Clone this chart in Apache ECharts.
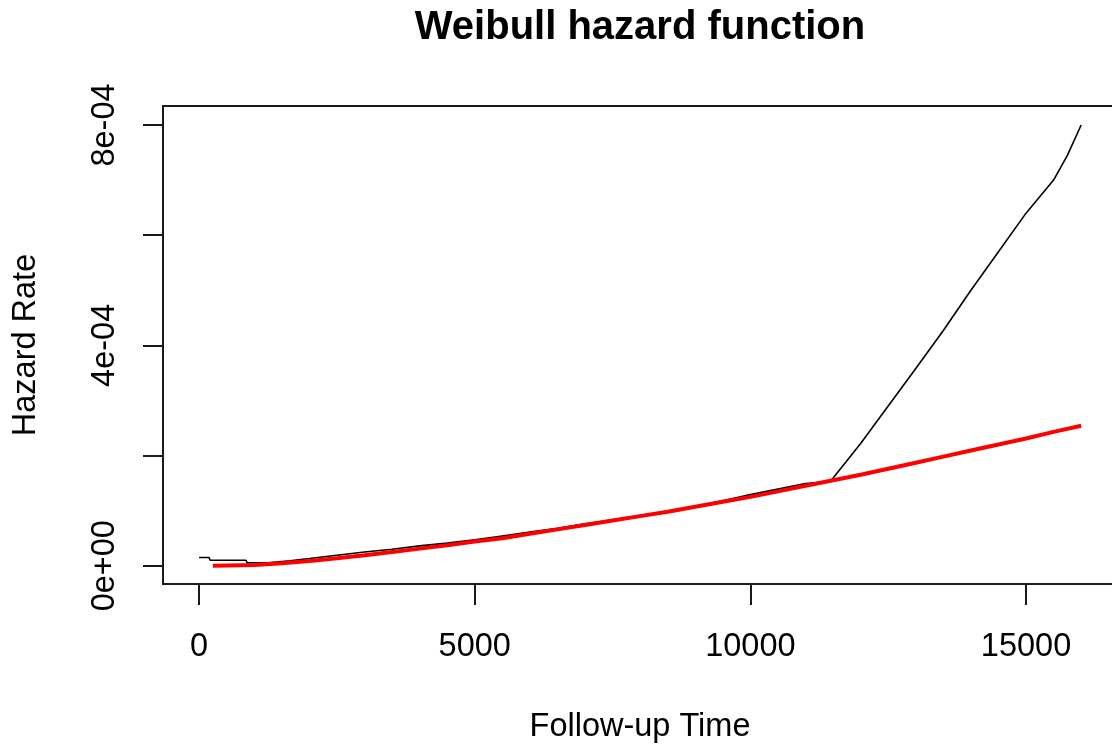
<!DOCTYPE html>
<html>
<head>
<meta charset="utf-8">
<script src="https://cdn.jsdelivr.net/npm/echarts@6/dist/echarts.min.js"></script>
<style>
  html, body { margin: 0; padding: 0; background: #ffffff; }
  #chart { width: 1112px; height: 747px; }
</style>
</head>
<body>
<div id="chart"></div>
<script>
// Observed (smoothed) hazard estimate: follow-up time and rate
const blackTime = [0, 180, 200, 850, 870, 1250, 1650, 2000, 2500, 3000, 3500, 4000, 4500, 5000, 5500, 6000,
  6500, 7000, 7500, 8000, 8500, 9000, 9500, 10000, 10500, 11000, 11450, 12000, 12500, 13000,
  13500, 14000, 14500, 15000, 15500, 15750, 16000];
const blackHazard = [1.5e-5, 1.5e-5, 1.0e-5, 1.0e-5, 5.5e-6, 5.5e-6, 9.0e-6, 1.3e-5, 1.9e-5, 2.5e-5, 3.0e-5,
  3.6e-5, 4.1e-5, 4.7e-5, 5.4e-5, 6.1e-5, 6.8e-5, 7.6e-5, 8.3e-5, 9.1e-5, 9.9e-5, 1.08e-4, 1.18e-4,
  1.29e-4, 1.39e-4, 1.49e-4, 1.53e-4, 2.22e-4, 2.90e-4, 3.58e-4, 4.27e-4, 5.0e-4, 5.7e-4, 6.4e-4,
  7.0e-4, 7.45e-4, 8.0e-4];

// Fitted Weibull hazard
const redTime = [250, 500, 1000, 1500, 2000, 2500, 3000, 3500, 4000, 4500, 5000, 5500, 6000, 6500, 7000,
  7500, 8000, 8500, 9000, 9500, 10000, 10500, 11000, 11500, 12000, 12500, 13000, 13500, 14000,
  14500, 15000, 15500, 16000];
const redHazard = [0, 5e-7, 1.5e-6, 4.5e-6, 8.5e-6, 1.35e-5, 1.9e-5, 2.5e-5, 3.1e-5, 3.7e-5, 4.4e-5, 5.0e-5,
  5.8e-5, 6.6e-5, 7.4e-5, 8.2e-5, 9.0e-5, 9.8e-5, 1.07e-4, 1.16e-4, 1.25e-4, 1.35e-4, 1.45e-4,
  1.55e-4, 1.65e-4, 1.76e-4, 1.87e-4, 1.98e-4, 2.09e-4, 2.20e-4, 2.31e-4, 2.43e-4, 2.54e-4];

// Axis ticks and labels
const xTickValues = [0, 5000, 10000, 15000];
const xTickLabels = ['0', '5000', '10000', '15000'];
const yTickValues = [0, 2e-4, 4e-4, 6e-4, 8e-4];
const yLabelValues = [0, 4e-4, 8e-4];
const yTickLabels = ['0e+00', '4e-04', '8e-04'];

const FONT = 'Liberation Sans, Arial, sans-serif';

function pairs(xs, ys) {
  return xs.map((x, i) => [x, ys[i]]);
}
function nearestLabel(values, labels, v) {
  let best = 0;
  for (let i = 1; i < values.length; i++) {
    if (Math.abs(values[i] - v) < Math.abs(values[best] - v)) best = i;
  }
  return labels[best];
}

const chart = echarts.init(document.getElementById('chart'), null, { renderer: 'canvas' });

chart.setOption({
  backgroundColor: '#ffffff',
  animation: false,
  title: {
    text: 'Weibull hazard function',
    left: 640,
    top: 8,
    padding: 0,
    textAlign: 'center',
    textStyle: { fontFamily: FONT, fontSize: 40, fontWeight: 'bold', color: '#000000' }
  },
  grid: {
    left: 163,
    top: 106,
    width: 954,
    height: 478,
    outerBoundsMode: 'none',
    containLabel: false,
    show: true,
    borderColor: '#1a1a1a',
    borderWidth: 2,
    backgroundColor: 'transparent'
  },
  xAxis: {
    type: 'value',
    min: -655,
    max: 16650,
    name: 'Follow-up Time',
    nameLocation: 'middle',
    nameGap: 143,
    nameTextStyle: { fontFamily: FONT, fontSize: 32.5, color: '#000000', verticalAlign: 'middle' },
    axisLine: { show: false, onZero: false },
    splitLine: { show: false },
    axisTick: {
      show: true,
      inside: false,
      length: 21,
      customValues: xTickValues,
      lineStyle: { color: '#1a1a1a', width: 2 }
    },
    axisLabel: {
      show: true,
      margin: 63,
      customValues: xTickValues,
      verticalAlign: 'middle',
      fontFamily: FONT,
      fontSize: 32.5,
      color: '#000000',
      formatter: v => nearestLabel(xTickValues, xTickLabels, v)
    }
  },
  yAxis: {
    type: 'value',
    min: -3.32e-5,
    max: 8.345e-4,
    name: 'Hazard Rate',
    nameLocation: 'middle',
    nameGap: 137,
    nameRotate: 90,
    nameTextStyle: { fontFamily: FONT, fontSize: 32.5, color: '#000000', verticalAlign: 'middle' },
    axisLine: { show: false, onZero: false },
    splitLine: { show: false },
    axisTick: {
      show: true,
      inside: false,
      length: 20,
      customValues: yTickValues,
      lineStyle: { color: '#1a1a1a', width: 2 }
    },
    axisLabel: {
      show: true,
      rotate: 90,
      margin: 58,
      customValues: yLabelValues,
      align: 'center',
      verticalAlign: 'middle',
      fontFamily: FONT,
      fontSize: 32.5,
      color: '#000000',
      formatter: v => nearestLabel(yLabelValues, yTickLabels, v)
    }
  },
  series: [
    {
      name: 'Observed hazard',
      type: 'line',
      data: pairs(blackTime, blackHazard),
      showSymbol: false,
      symbol: 'none',
      lineStyle: { color: '#000000', width: 1.6 },
      z: 2
    },
    {
      name: 'Weibull hazard',
      type: 'line',
      data: pairs(redTime, redHazard),
      showSymbol: false,
      symbol: 'none',
      smooth: false,
      lineStyle: { color: '#ff0000', width: 4 },
      z: 3
    }
  ]
});
</script>
</body>
</html>
